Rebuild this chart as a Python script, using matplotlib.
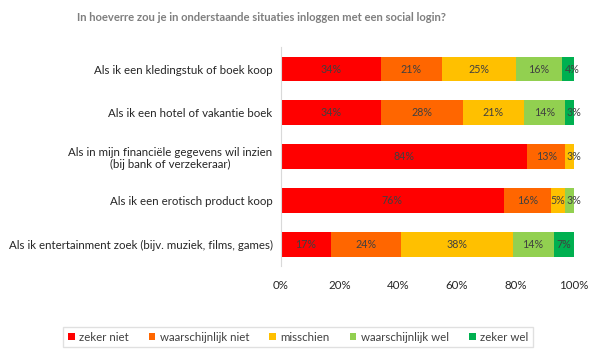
import matplotlib
matplotlib.use("Agg")
import matplotlib.pyplot as plt
import numpy as np

categories = [
    "Als ik een kledingstuk of boek koop",
    "Als ik een hotel of vakantie boek",
    "Als in mijn financiële gegevens wil inzien\n(bij bank of verzekeraar)",
    "Als ik een erotisch product koop",
    "Als ik entertainment zoek (bijv. muziek, films, games)",
]
series_names = ["zeker niet", "waarschijnlijk niet", "misschien", "waarschijnlijk wel", "zeker wel"]
zeker_niet = [34, 34, 84, 76, 17]
waarsch_niet = [21, 28, 13, 16, 24]
misschien = [25, 21, 3, 5, 38]
waarsch_wel = [16, 14, 0, 3, 14]
zeker_wel = [4, 3, 0, 0, 7]

colors = ["#FF0000", "#FF6600", "#FFC000", "#92D050", "#00B050"]

plt.rcParams["font.family"] = ["Lato", "DejaVu Sans"]

fig = plt.figure(figsize=(5.95, 3.57), dpi=100)
ax = fig.add_axes([0.472, 0.255, 0.493, 0.613])

y = np.arange(len(categories))
left = np.zeros(len(categories))
for name, vals, col in zip(series_names,
                           [zeker_niet, waarsch_niet, misschien, waarsch_wel, zeker_wel],
                           colors):
    vals = np.array(vals, dtype=float)
    ax.barh(y, vals, left=left, height=0.57, color=col, label=name)
    for yi, (l, v) in enumerate(zip(left, vals)):
        if v > 0:
            # smalle laatste segmenten: label iets naar rechts, zoals in Excel
            nudge = 1.3 if (l + v >= 99.5 and v < 5) else 0
            ax.text(l + v / 2 + nudge, yi, f"{int(v)}%", ha="center", va="center",
                    fontsize=7.7, color="#404040")
    left += vals

ax.set_xlim(0, 100)
ax.set_ylim(len(categories) - 0.5, -0.5)
ax.set_yticks(y)
ax.set_yticklabels(categories, fontsize=8.3, color="#262626", ha="right", multialignment="center")
ax.set_xticks(np.arange(0, 101, 20))
ax.set_xticklabels([f"{v}%" for v in range(0, 101, 20)], fontsize=8.3, color="#262626")
ax.tick_params(axis="both", length=0, pad=6)
ax.tick_params(axis="x", pad=10)
for s in ["top", "right", "bottom"]:
    ax.spines[s].set_visible(False)
ax.spines["left"].set_color("#D9D9D9")

fig.text(0.439, 0.95, "In hoeverre zou je in onderstaande situaties inloggen met een social login?",
         ha="center", va="center", fontsize=8.1, fontweight="bold", color="#7F7F7F")

leg = fig.legend(loc="center", bbox_to_anchor=(0.501, 0.055), ncol=5, fontsize=8.3,
                 frameon=True, fancybox=False, edgecolor="#D9D9D9",
                 handlelength=0.6, handleheight=0.6, handletextpad=0.4, columnspacing=1.7,
                 borderpad=0.4)
for t in leg.get_texts():
    t.set_color("#404040")

fig.savefig("out.png", dpi=100)
